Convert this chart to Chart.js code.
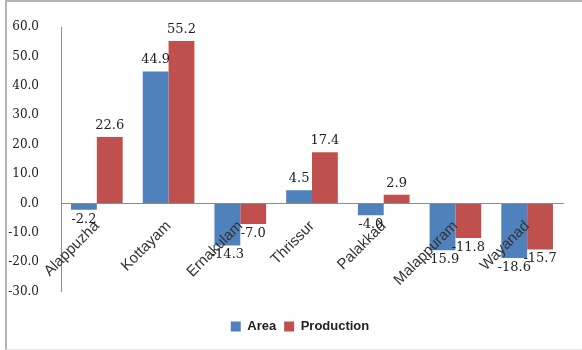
<!DOCTYPE html>
<html>
<head>
<meta charset="utf-8">
<script src="https://cdn.jsdelivr.net/npm/chart.js@4"></script>
<style>
  html, body { margin: 0; padding: 0; background: #fff; }
  #wrap {
    position: relative;
    width: 577px;
    height: 350px;
    box-sizing: border-box;
    margin-left: 5px;
    border-top: 2px solid #b4b4b4;
    border-left: 2px solid #b4b4b4;
    border-bottom: 1px solid #e4e4e4;
  }
</style>
</head>
<body>
<div id="wrap"><canvas id="chart" width="575" height="347"></canvas></div>
<script>
const districts = ["Alappuzha", "Kottayam", "Ernakulam", "Thrissur", "Palakkad", "Malappuram", "Wayanad"];
const areaChange = [-2.2, 44.9, -14.3, 4.5, -4.0, -15.9, -18.6];
const productionChange = [22.6, 55.2, -7.0, 17.4, 2.9, -11.8, -15.7];
const yTicks = [60, 50, 40, 30, 20, 10, 0, -10, -20, -30];

const numFont = { family: "'DejaVu Serif', serif", size: 13 };

// writes each bar's value above (or below, when negative) the bar
const barValues = {
  id: "barValues",
  afterDatasetsDraw(chart) {
    const ctx = chart.ctx;
    ctx.save();
    ctx.font = numFont.size + "px " + numFont.family;
    ctx.fillStyle = "#222";
    ctx.textAlign = "center";
    chart.data.datasets.forEach((ds, i) => {
      chart.getDatasetMeta(i).data.forEach((bar, j) => {
        const v = ds.data[j];
        if (v >= 0) {
          ctx.textBaseline = "bottom";
          ctx.fillText(v.toFixed(1), bar.x, bar.y - 5);
        } else {
          ctx.textBaseline = "top";
          ctx.fillText(v.toFixed(1), bar.x, bar.y + 3);
        }
      });
    });
    ctx.restore();
  }
};

// nudge the legend a little right of the canvas centre
const legendShift = {
  id: "legendShift",
  afterLayout(chart) {
    chart.legend.left += 15;
    chart.legend.right += 15;
  }
};

new Chart(document.getElementById("chart"), {
  type: "bar",
  data: {
    labels: districts,
    datasets: [
      { label: "Area", data: areaChange, backgroundColor: "#4f81bd" },
      { label: "Production", data: productionChange, backgroundColor: "#c0504d" }
    ]
  },
  options: {
    responsive: false,
    animation: false,
    layout: { padding: { top: 25, right: 19, bottom: 6, left: 0 } },
    datasets: { bar: { categoryPercentage: 0.72, barPercentage: 1.0 } },
    scales: {
      x: {
        position: { y: 0 },
        grid: { display: false },
        border: { display: true, color: "#8c8c8c", width: 1, z: 1 },
        ticks: {
          z: 1,
          minRotation: 45,
          maxRotation: 45,
          padding: 6,
          color: "#333",
          font: { family: "'Liberation Sans', sans-serif", size: 15 }
        }
      },
      y: {
        min: -30,
        max: 60,
        afterBuildTicks(scale) { scale.ticks = yTicks.map(v => ({ value: v })); },
        afterFit(scale) { scale.width = 54; },
        grid: { display: false },
        border: { display: true, color: "#8c8c8c", width: 1 },
        ticks: {
          padding: 14,
          color: "#222",
          font: { family: numFont.family, size: 12 },
          callback: v => v.toFixed(1)
        }
      }
    },
    plugins: {
      tooltip: { enabled: false },
      legend: {
        position: "bottom",
        title: { display: true, text: " ", font: { size: 2 }, padding: { top: 18, bottom: 0 } },
        labels: {
          boxWidth: 10,
          boxHeight: 10,
          padding: 8,
          color: "#222",
          font: { family: "'Liberation Sans', sans-serif", size: 13, weight: "bold" }
        }
      }
    }
  },
  plugins: [barValues, legendShift]
});
</script>
</body>
</html>
